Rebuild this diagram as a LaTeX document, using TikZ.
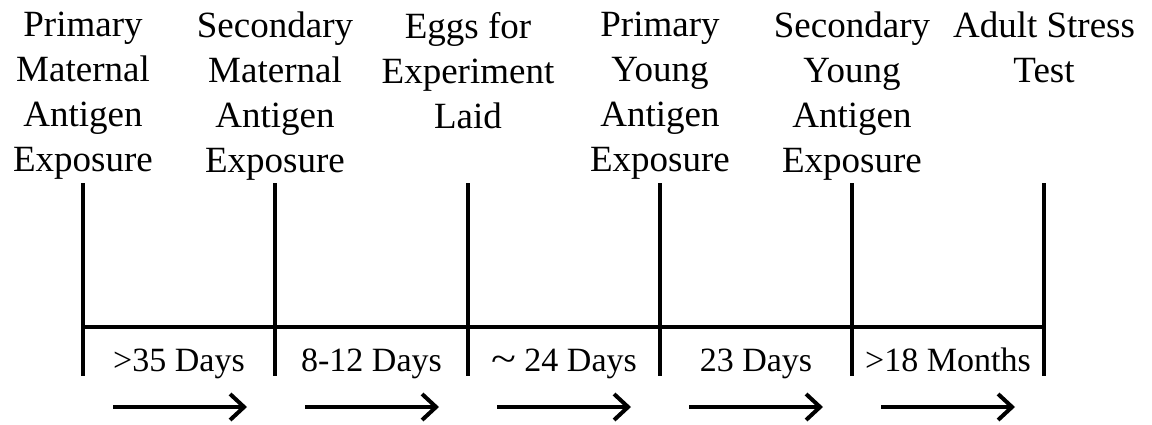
\documentclass[tikz,border=0pt]{standalone}
\usepackage{fontspec}
\setmainfont{Liberation Serif}
\usetikzlibrary{arrows.meta}

\tikzset{
  event/.style={anchor=north, align=center, inner sep=0pt,
    font=\fontsize{37}{45}\selectfont, execute at begin node=\strut},
  span/.style={anchor=base, inner sep=0pt, font=\fontsize{34}{40}\selectfont},
  tick/.style={line width=4pt},
  flow/.style={line width=4pt, -{Straight Barb[length=14pt,width=26pt,line width=4pt]}}
}

\begin{document}
\begin{tikzpicture}[x=1pt, y=-1pt]
\useasboundingbox (0,0) rectangle (1152,424);

% timeline
\foreach \x/\n in {83/t1,275/t2,468/t3,660/t4,852/t5,1044/t6} {
  \coordinate (\n top) at (\x,183);
  \coordinate (\n bot) at (\x,376);
  \coordinate (\n) at (\x,327);
  \draw[tick] (\n top) -- (\n bot);
}
\draw[tick] (t1) -- (t6);

% events
\node[event] (e1) at (83,12) {Primary\\Maternal\\Antigen\\Exposure};
\node[event] (e2) at (275,12) {Secondary\\Maternal\\Antigen\\Exposure};
\node[event] (e3) at (468,12) {Eggs for\\Experiment\\Laid};
\node[event] (e4) at (660,12) {Primary\\Young\\Antigen\\Exposure};
\node[event] (e5) at (852,12) {Secondary\\Young\\Antigen\\Exposure};
\node[event] (e6) at (1044,12) {Adult Stress\\Test};

% durations
\node[span] (d1) at (179,371) {>35 Days};
\node[span] (d2) at (371.5,371) {8-12 Days};
\node[span] (d3) at (564,371) {\scalebox{1.35}[1.1]{\textasciitilde}\ 24 Days};
\node[span] (d4) at (756,371) {23 Days};
\node[span] (d5) at (948,371) {>18 Months};

% arrows
\foreach \x/\n in {180/a1,372/a2,564/a3,756/a4,948/a5} {
  \coordinate (\n s) at (\x-67,407);
  \coordinate (\n e) at (\x+67,407);
  \draw[flow] (\n s) -- (\n e);
}
\end{tikzpicture}
\end{document}
